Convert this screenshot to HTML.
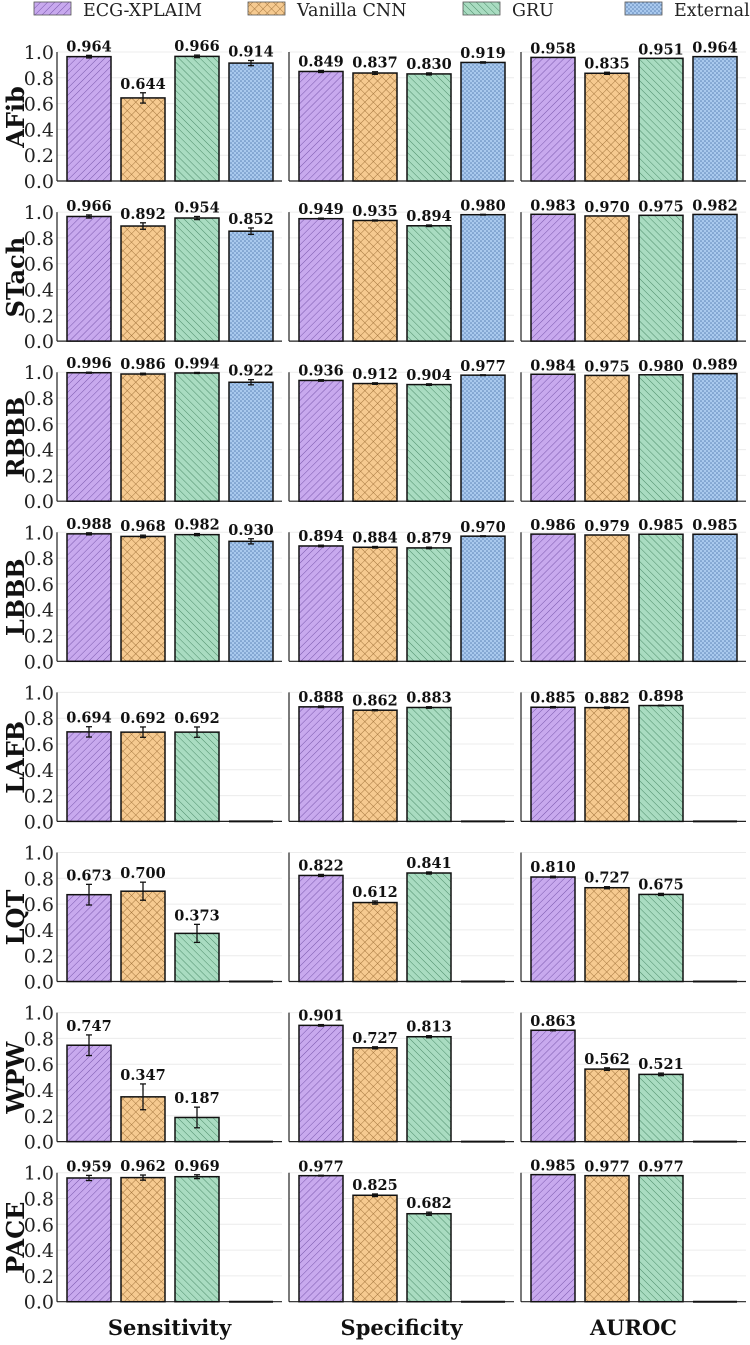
<!DOCTYPE html>
<html><head><meta charset="utf-8"><style>
body{margin:0;background:#fff;}
svg{display:block;}
text{font-family:"DejaVu Serif","Liberation Serif",serif;}
</style></head><body>
<svg id="chart" width="750" height="1345" viewBox="0 0 750 1345" xmlns="http://www.w3.org/2000/svg">
<defs>
<pattern id="pPurple" patternUnits="userSpaceOnUse" width="5" height="5" patternTransform="rotate(45)"><rect width="5" height="5" fill="#c8a9ee"/><line x1="0" y1="0" x2="0" y2="5" stroke="#7a58ad" stroke-width="1"/></pattern>
<pattern id="pOrange" patternUnits="userSpaceOnUse" width="6" height="6" patternTransform="rotate(45)"><rect width="6" height="6" fill="#f6ca90"/><line x1="0" y1="0" x2="0" y2="6" stroke="#9c6d35" stroke-width="0.9"/><line x1="0" y1="0" x2="6" y2="0" stroke="#9c6d35" stroke-width="0.9"/></pattern>
<pattern id="pGreen" patternUnits="userSpaceOnUse" width="5" height="5" patternTransform="rotate(-45)"><rect width="5" height="5" fill="#a9dcc1"/><line x1="0" y1="0" x2="0" y2="5" stroke="#4e8d6b" stroke-width="1"/></pattern>
<pattern id="pBlue" patternUnits="userSpaceOnUse" width="4" height="4"><rect width="4" height="4" fill="#a9c9ee"/><circle cx="1" cy="1" r="0.8" fill="#5a82b5"/><circle cx="3" cy="3" r="0.8" fill="#5a82b5"/></pattern>
</defs>
<g id="legend"></g>
<g id="panels"></g>
</svg>
<script>
const rowNames=["AFib","STach","RBBB","LBBB","LAFB","LQT","WPW","PACE"];
const metricNames=["Sensitivity","Specificity","AUROC"];
const modelNames=["ECG-XPLAIM","Vanilla CNN","GRU","External"];
const yTicks=[0,0.2,0.4,0.6,0.8,1.0];
const sensVals=[[0.964,0.644,0.966,0.914],[0.966,0.892,0.954,0.852],[0.996,0.986,0.994,0.922],[0.988,0.968,0.982,0.930],[0.694,0.692,0.692,null],[0.673,0.700,0.373,null],[0.747,0.347,0.187,null],[0.959,0.962,0.969,null]];
const sensErr=[[0.01,0.04,0.01,0.02],[0.012,0.025,0.012,0.025],[0.004,0.006,0.004,0.02],[0.008,0.01,0.008,0.02],[0.04,0.04,0.04,0],[0.08,0.07,0.07,0],[0.08,0.1,0.08,0],[0.02,0.02,0.015,0]];
const specVals=[[0.849,0.837,0.830,0.919],[0.949,0.935,0.894,0.980],[0.936,0.912,0.904,0.977],[0.894,0.884,0.879,0.970],[0.888,0.862,0.883,null],[0.822,0.612,0.841,null],[0.901,0.727,0.813,null],[0.977,0.825,0.682,null]];
const specErr=[[0.008,0.01,0.008,0.005],[0.004,0.004,0.006,0.003],[0.006,0.006,0.006,0.003],[0.006,0.006,0.006,0.003],[0.006,0.004,0.006,0],[0.008,0.012,0.008,0],[0.006,0.008,0.008,0],[0.003,0.01,0.012,0]];
const aurocVals=[[0.958,0.835,0.951,0.964],[0.983,0.970,0.975,0.982],[0.984,0.975,0.980,0.989],[0.986,0.979,0.985,0.985],[0.885,0.882,0.898,null],[0.810,0.727,0.675,null],[0.863,0.562,0.521,null],[0.985,0.977,0.977,null]];
const aurocErr=[[0,0.008,0,0],[0,0,0,0],[0,0,0,0],[0,0,0,0],[0.005,0.005,0.003,0],[0.006,0.008,0.008,0],[0.004,0.01,0.01,0],[0,0,0,0]];
const allVals=[sensVals,specVals,aurocVals];
const allErr=[sensErr,specErr,aurocErr];
const fills=["url(#pPurple)","url(#pOrange)","url(#pGreen)","url(#pBlue)"];
const NS="http://www.w3.org/2000/svg";
function mk(tag,attrs,parent){const e=document.createElementNS(NS,tag);for(const k in attrs)e.setAttribute(k,attrs[k]);parent.appendChild(e);return e;}
const colX0=[57,289,521], axisW=225, row0=181, rowPitch=160.1, unitH=129;
function yScale(r,v){return row0+r*rowPitch - v*unitH;}
function xBar(c,m){return colX0[c]+10+m*54;}
const barW=44;
const root=document.getElementById('panels');
const lg=document.getElementById('legend');
const legX=[34,248,463,625];
modelNames.forEach((n,i)=>{
  const g=mk('g',{},lg);
  
  
  mk('rect',{x:legX[i],y:2,width:37,height:13,fill:fills[i],stroke:"#555","stroke-width":0.8},g);
  const t=mk('text',{x:legX[i]+49,y:16,"font-size":17.5,fill:"#222","font-family":"DejaVu Sans, Liberation Sans, sans-serif"},g);t.textContent=n;
});
for(let r=0;r<rowNames.length;r++){
  const base=yScale(r,0);
  const rl=mk('text',{x:0,y:0,"font-size":24,"font-weight":"bold","text-anchor":"middle",transform:`translate(24,${base-64}) rotate(-90)`,fill:"#111"},root);
  
  
  rl.textContent=rowNames[r];
  for(let c=0;c<3;c++){
    const g=mk('g',{},root);
    
    
    yTicks.forEach(t=>{
      if(t>0) mk('line',{x1:colX0[c],x2:colX0[c]+axisW,y1:yScale(r,t),y2:yScale(r,t),stroke:"#ececec","stroke-width":1},g);
      if(c===0){const tl=mk('text',{x:colX0[c]-3,y:yScale(r,t)+7,"font-size":19,"text-anchor":"end",fill:"#222"},g);
        
        
        tl.textContent=t.toFixed(1);}
    });
    mk('line',{x1:colX0[c],x2:colX0[c],y1:yScale(r,1.0),y2:base,stroke:"#222","stroke-width":1.2},g);
    mk('line',{x1:colX0[c],x2:colX0[c]+axisW,y1:base,y2:base,stroke:"#222","stroke-width":1.2},g);
    for(let m=0;m<4;m++){
      const v=allVals[c][r][m];
      const x=xBar(c,m);
      if(v===null){
        const z=mk('line',{x1:x,x2:x+barW,y1:base,y2:base,stroke:"#111","stroke-width":2},g);
        
        
        continue;
      }
      const yt=yScale(r,v);
      const b=mk('rect',{x:x,y:yt,width:barW,height:base-yt,fill:fills[m],stroke:"#111","stroke-width":1.5},g);
      
      
      const e=allErr[c][r][m];
      const cx=x+barW/2;
      if(e>0){
        const y1=yScale(r,v+e), y2=yScale(r,v-e);
        mk('line',{x1:cx,x2:cx,y1:y1,y2:y2,stroke:"#111","stroke-width":1.3},g);
        mk('line',{x1:cx-3,x2:cx+3,y1:y1,y2:y1,stroke:"#111","stroke-width":1.3},g);
        mk('line',{x1:cx-3,x2:cx+3,y1:y2,y2:y2,stroke:"#111","stroke-width":1.3},g);
      }
      const lbl=mk('text',{x:cx,y:yScale(r,v+e)-4,"font-size":14.5,"font-weight":"bold","text-anchor":"middle",fill:"#111"},g);
      
      
      lbl.textContent=v.toFixed(3);
    }
  }
}
metricNames.forEach((n,c)=>{
  const t=mk('text',{x:colX0[c]+axisW/2,y:1335,"font-size":21,"font-weight":"bold","text-anchor":"middle",fill:"#111"},root);
  
  
  t.textContent=n;
});
</script>
</body></html>
